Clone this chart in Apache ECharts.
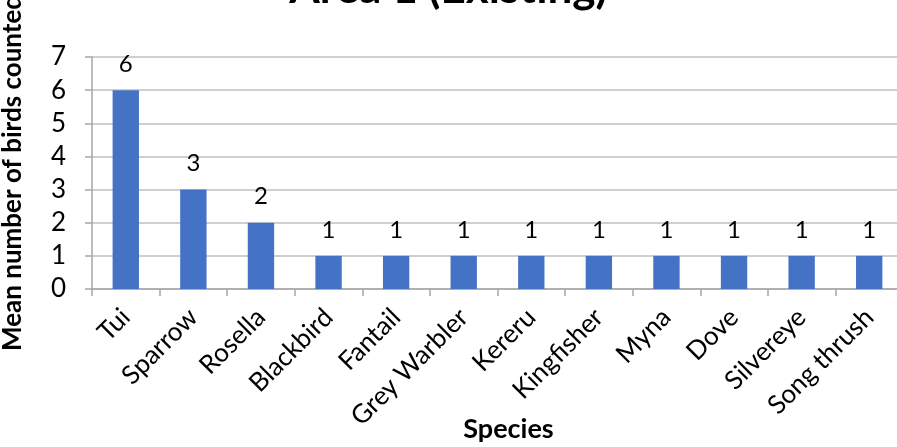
<!DOCTYPE html>
<html>
<head>
<meta charset="utf-8">
<title>Area 1 (Existing)</title>
<script src="https://cdn.jsdelivr.net/npm/echarts@6/dist/echarts.min.js"></script>
<style>
  html, body { margin: 0; padding: 0; background: #ffffff; }
  #chart { width: 897px; height: 447px; }
</style>
</head>
<body>
<div id="chart"></div>
<script>
// Bird survey counts, area 1
const species = ['Tui', 'Sparrow', 'Rosella', 'Blackbird', 'Fantail', 'Grey Warbler',
                 'Kereru', 'Kingfisher', 'Myna', 'Dove', 'Silvereye', 'Song thrush'];
const meanCounts = [6, 3, 2, 1, 1, 1, 1, 1, 1, 1, 1, 1];
const yTicks = [0, 1, 2, 3, 4, 5, 6, 7];

const FONT = 'Lato, "Open Sans", sans-serif';
const chart = echarts.init(document.getElementById('chart'));

chart.setOption({
  animation: false,
  backgroundColor: '#ffffff',
  title: {
    text: 'Area 1 (Existing)',
    left: 'center',
    top: -38,
    textStyle: { fontFamily: FONT, fontSize: 44, fontWeight: 'bold', color: '#000000' }
  },
  grid: { left: 92, right: -6, top: 57, bottom: 158, containLabel: false, outerBoundsMode: 'none' },
  xAxis: {
    type: 'category',
    data: species,
    name: 'Species',
    nameLocation: 'middle',
    nameGap: 127,
    nameMoveOverlap: false,
    nameTextStyle: { fontFamily: FONT, fontSize: 27, fontWeight: 'bold', color: '#000000', padding: [0, 0, 0, 22] },
    axisLine: { lineStyle: { color: '#A6A6A6', width: 1.5 } },
    axisTick: { show: true, length: 7, alignWithLabel: false, lineStyle: { color: '#A6A6A6', width: 1.5 } },
    axisLabel: { rotate: 45, interval: 0, margin: 24, fontFamily: FONT, fontSize: 26, color: '#000000' }
  },
  yAxis: {
    type: 'value',
    min: yTicks[0],
    max: yTicks[yTicks.length - 1],
    interval: 1,
    name: 'Mean number of birds counted',
    nameLocation: 'middle',
    nameGap: 66,
    nameMoveOverlap: false,
    nameTextStyle: { fontFamily: FONT, fontSize: 26, fontWeight: 'bold', color: '#000000' },
    axisLine: { show: true, lineStyle: { color: '#A6A6A6', width: 1.5 } },
    axisTick: { show: true, length: 7, lineStyle: { color: '#A6A6A6', width: 1.5 } },
    axisLabel: { margin: 26, fontFamily: FONT, fontSize: 26, color: '#000000' },
    splitLine: { show: true, lineStyle: { color: '#BFBFBF', width: 1.5 } }
  },
  series: [{
    type: 'bar',
    data: meanCounts,
    barCategoryGap: '61%',
    itemStyle: { color: '#4472C4' },
    label: {
      show: true,
      position: 'top',
      distance: 14,
      fontFamily: FONT,
      fontSize: 24,
      color: '#000000'
    }
  }]
});
</script>
</body>
</html>
